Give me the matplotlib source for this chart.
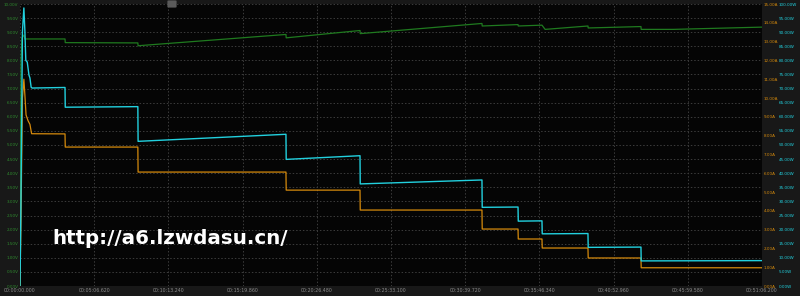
import matplotlib.pyplot as plt
from matplotlib.patches import FancyBboxPatch

# time axis, seconds from start (ticks every 306.62 s)
tick_secs = [0, 306.62, 613.24, 919.86, 1226.48, 1533.1, 1839.72, 2146.34, 2452.96, 2759.58, 3066.2]
tick_labels = ["00:00:00.000", "00:05:06.620", "00:10:13.240", "00:15:19.860", "00:20:26.480",
               "00:25:33.100", "00:30:39.720", "00:35:46.340", "00:40:52.960", "00:45:59.580",
               "00:51:06.200"]

# voltage (V)
volt_t = [0, 4, 8, 16, 20, 186, 187, 487, 488, 1099, 1100, 1405, 1406, 1909, 1910,
          2058, 2059, 2157, 2170, 2347, 2348, 2566, 2567, 2700, 3066]
volt_v = [0, 8.0, 8.8, 8.9, 8.76, 8.76, 8.63, 8.62, 8.52, 8.92, 8.80, 9.06, 8.95, 9.31, 9.22,
          9.27, 9.22, 9.25, 9.10, 9.22, 9.15, 9.20, 9.10, 9.10, 9.18]

# current (A)
curr_t = [0, 4, 10, 16, 20, 25, 33, 41, 48, 186, 187, 487, 488, 1099, 1100, 1405, 1406,
          1909, 1910, 2058, 2059, 2157, 2158, 2347, 2348, 2566, 2567, 3066]
curr_a = [0, 3.5, 10.0, 11.0, 10.2, 9.1, 8.8, 8.6, 8.1, 8.09, 7.39, 7.39, 6.06, 6.06, 5.1,
          5.1, 4.04, 4.04, 3.03, 3.03, 2.5, 2.5, 2.02, 2.02, 1.49, 1.49, 0.97, 0.97]

# power (W)
pow_t = [0, 4, 10, 16, 20, 24, 30, 37, 41, 46, 50, 186, 187, 487, 488, 1099, 1100, 1405,
         1406, 1909, 1910, 2058, 2059, 2157, 2158, 2347, 2348, 2566, 2567, 3066]
pow_w = [0, 30, 90, 98.6, 90.8, 80, 79.4, 74.8, 73.8, 70.5, 70.2, 70.4, 63.4, 63.6, 51.3,
         53.8, 44.9, 46.2, 36.2, 37.6, 27.9, 28.0, 23.0, 23.1, 18.5, 18.6, 13.7, 13.8, 8.9, 9.0]

volt_ticks = [i * 0.5 for i in range(21)]
curr_ticks = list(range(16))
pow_ticks = [i * 5 for i in range(21)]

bg = "#050505"
grid_c = "#3c3c3c"
green = "#1f7a1f"
green_lbl = "#2e8b2e"
cyan = "#22d0de"
orange = "#d58a0c"
lbl_size = 3.0

fig = plt.figure(figsize=(8, 2.96), dpi=100, facecolor="#181818")
ax = fig.add_axes([20 / 800, 10 / 296, 742 / 800, 282 / 296], facecolor=bg)

ax.set_xlim(0, 3066.2)
ax.set_ylim(0, 10)
ax.set_xticks(tick_secs)
ax.set_xticklabels(tick_labels)
ax.set_yticks(volt_ticks)
ax.set_yticklabels([f"{v:.2f}V" for v in volt_ticks])
ax.tick_params(axis="x", length=0, pad=1.5, labelsize=3.4, labelcolor="#8a8a8a")
ax.tick_params(axis="y", length=0, pad=1.2, labelsize=lbl_size, labelcolor=green_lbl)
ax.grid(True, color=grid_c, linestyle=(0, (1.5, 2)), linewidth=0.7)
for s in ax.spines.values():
    s.set_visible(False)

ax_i = ax.twinx()
ax_i.set_ylim(0, 15)
ax_i.set_yticks(curr_ticks)
ax_i.set_yticklabels([f"{a:.2f}A" for a in curr_ticks])
ax_i.tick_params(axis="y", length=0, pad=1.5, labelsize=lbl_size, labelcolor=orange)

ax_p = ax.twinx()
ax_p.set_ylim(0, 100)
ax_p.set_yticks(pow_ticks)
ax_p.set_yticklabels([f"{w:.2f}W" for w in pow_ticks])
ax_p.tick_params(axis="y", length=0, pad=12.0, labelsize=lbl_size, labelcolor=cyan)

for a in (ax_i, ax_p):
    for s in a.spines.values():
        s.set_visible(False)

ax.plot(volt_t, volt_v, color=green, linewidth=0.9)
ax_i.plot(curr_t, curr_a, color=orange, linewidth=0.9)
ax_p.plot(pow_t, pow_w, color=cyan, linewidth=1.0)

# small marker badge at the top of the plot
fig.patches.append(FancyBboxPatch((169 / 800, 289 / 296), 6 / 800, 6 / 296,
                                  boxstyle="round,pad=0.002", transform=fig.transFigure,
                                  facecolor="#5a5a5a", edgecolor="none"))

fig.text(52 / 800, 1 - 238 / 296, "http://a6.lzwdasu.cn/", color="white",
         fontsize=14.3, fontweight="bold", va="center", ha="left")

fig.savefig("out.png", dpi=100, facecolor=fig.get_facecolor())
